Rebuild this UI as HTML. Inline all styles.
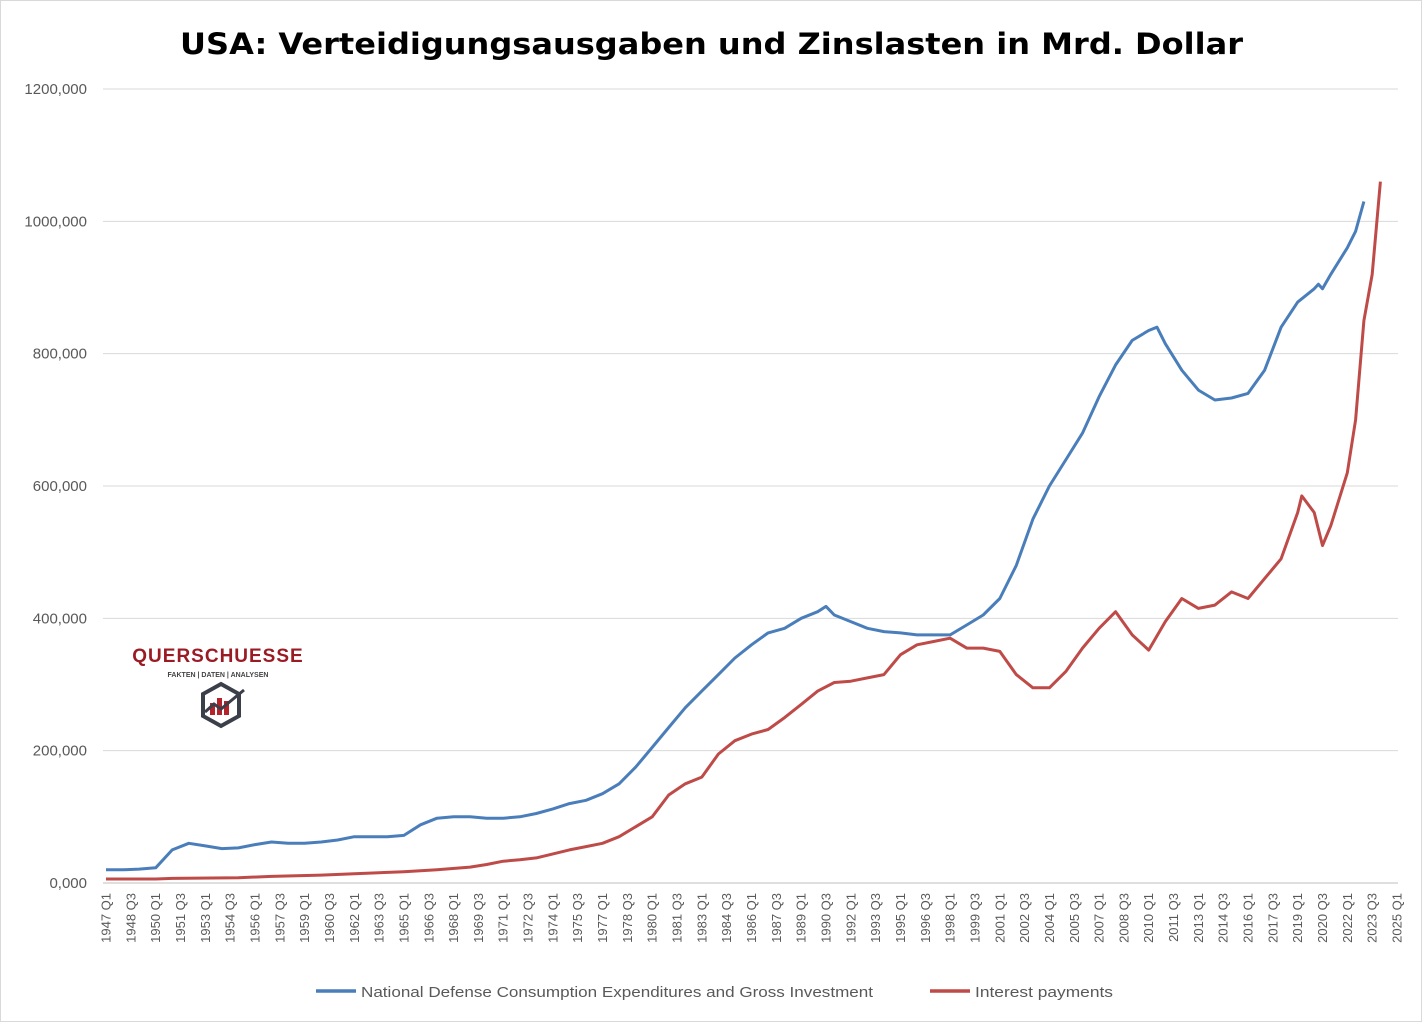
<!DOCTYPE html>
<html><head><meta charset="utf-8">
<style>
html,body{margin:0;padding:0;background:#fff;}
body{width:1422px;height:1022px;overflow:hidden;font-family:"Liberation Sans",sans-serif;}
</style></head>
<body>
<svg id="chart" width="1422" height="1022" xmlns="http://www.w3.org/2000/svg">
<rect x="0.5" y="0.5" width="1421" height="1021" fill="#fff" stroke="#d9d9d9"/>
<text x="180" y="54" textLength="1063" lengthAdjust="spacingAndGlyphs" font-family="'DejaVu Sans',sans-serif" font-size="29" font-weight="bold" fill="#000">USA: Verteidigungsausgaben und Zinslasten in Mrd. Dollar</text>
<g id="grid"></g><g id="ylabels"></g><g id="xlabels"></g><g id="series"></g>
<g>
<text x="218" y="662" text-anchor="middle" font-size="19" font-weight="bold" fill="#9b1b24" letter-spacing="1">QUERSCHUESSE</text>
<text x="218" y="677" text-anchor="middle" font-size="7" font-weight="bold" fill="#444">FAKTEN | DATEN | ANALYSEN</text>
<polygon points="221,684 239,694 239,716 221,726 203,716 203,694" fill="none" stroke="#3b3f4a" stroke-width="4"/>
<rect x="210" y="703" width="5" height="12" fill="#b5222b"/><rect x="217" y="698" width="5" height="17" fill="#b5222b"/><rect x="224" y="701" width="5" height="14" fill="#b5222b"/>
<polyline points="205,712 214,704 221,709 244,690" fill="none" stroke="#3b3f4a" stroke-width="3"/>
</g>
<g>
<line x1="316" y1="991" x2="356" y2="991" stroke="#4a7ebb" stroke-width="3.5"/>
<text x="361" y="997" font-size="15" fill="#595959" textLength="512" lengthAdjust="spacingAndGlyphs">National Defense Consumption Expenditures and Gross Investment</text>
<line x1="930" y1="991" x2="970" y2="991" stroke="#be4b48" stroke-width="3.5"/>
<text x="975" y="997" font-size="15" fill="#595959" textLength="138" lengthAdjust="spacingAndGlyphs">Interest payments</text>
</g>
</svg>
<script>
const yTicks=[0,200000,400000,600000,800000,1000000,1200000];
const yTickLabels=["0,000","200,000","400,000","600,000","800,000","1000,000","1200,000"];
const defenseDates=["1947 Q1","1948 Q1","1949 Q1","1950 Q1","1951 Q1","1952 Q1","1953 Q1","1954 Q1","1955 Q1","1956 Q1","1957 Q1","1958 Q1","1959 Q1","1960 Q1","1961 Q1","1962 Q1","1963 Q1","1964 Q1","1965 Q1","1966 Q1","1967 Q1","1968 Q1","1969 Q1","1970 Q1","1971 Q1","1972 Q1","1973 Q1","1974 Q1","1975 Q1","1976 Q1","1977 Q1","1978 Q1","1979 Q1","1980 Q1","1981 Q1","1982 Q1","1983 Q1","1984 Q1","1985 Q1","1986 Q1","1987 Q1","1988 Q1","1989 Q1","1990 Q1","1990 Q3","1991 Q1","1992 Q1","1993 Q1","1994 Q1","1995 Q1","1996 Q1","1997 Q1","1998 Q1","1999 Q1","2000 Q1","2001 Q1","2002 Q1","2003 Q1","2004 Q1","2005 Q1","2006 Q1","2007 Q1","2008 Q1","2009 Q1","2010 Q1","2010 Q3","2011 Q1","2012 Q1","2013 Q1","2014 Q1","2015 Q1","2016 Q1","2017 Q1","2018 Q1","2019 Q1","2020 Q1","2020 Q2","2020 Q3","2021 Q1","2022 Q1","2022 Q3","2023 Q1"];
const defenseValues=[20000,20000,21000,23000,50000,60000,56000,52000,53000,58000,62000,60000,60000,62000,65000,70000,70000,70000,72000,88000,98000,100000,100000,98000,98000,100000,105000,112000,120000,125000,135000,150000,175000,205000,235000,265000,290000,315000,340000,360000,378000,385000,400000,410000,418000,405000,395000,385000,380000,378000,375000,375000,375000,390000,405000,430000,480000,550000,600000,640000,680000,735000,783000,820000,835000,840000,815000,775000,745000,730000,733000,740000,775000,840000,878000,898000,905000,898000,920000,960000,985000,1030000];
const interestDates=["1947 Q1","1950 Q1","1951 Q1","1955 Q1","1957 Q1","1960 Q1","1962 Q1","1965 Q1","1967 Q1","1969 Q1","1970 Q1","1971 Q1","1972 Q1","1973 Q1","1974 Q1","1975 Q1","1976 Q1","1977 Q1","1978 Q1","1979 Q1","1980 Q1","1981 Q1","1982 Q1","1983 Q1","1984 Q1","1985 Q1","1986 Q1","1987 Q1","1988 Q1","1989 Q1","1990 Q1","1991 Q1","1992 Q1","1993 Q1","1994 Q1","1995 Q1","1996 Q1","1997 Q1","1998 Q1","1999 Q1","2000 Q1","2001 Q1","2002 Q1","2003 Q1","2004 Q1","2005 Q1","2006 Q1","2007 Q1","2008 Q1","2009 Q1","2010 Q1","2011 Q1","2012 Q1","2013 Q1","2014 Q1","2015 Q1","2016 Q1","2017 Q1","2018 Q1","2019 Q1","2019 Q2","2020 Q1","2020 Q3","2021 Q1","2022 Q1","2022 Q3","2023 Q1","2023 Q3","2024 Q1"];
const interestValues=[6000,6000,7000,8000,10000,12000,14000,17000,20000,24000,28000,33000,35000,38000,44000,50000,55000,60000,70000,85000,100000,133000,150000,160000,195000,215000,225000,232000,250000,270000,290000,303000,305000,310000,315000,345000,360000,365000,370000,355000,355000,350000,315000,295000,295000,320000,355000,385000,410000,375000,352000,395000,430000,415000,420000,440000,430000,460000,490000,560000,585000,560000,510000,540000,620000,700000,850000,920000,1060000];
const NS="http://www.w3.org/2000/svg";
const L=103,R=1398,Y0=883,Y1=89;
function qIndex(s){const p=s.split(" Q");return (parseInt(p[0])-1947)*4+parseInt(p[1])-1;}
function xPos(i){return 106+i*(1397-106)/312;}
function yPos(v){return Y0-v/1200000*(Y0-Y1);}
function mk(tag,attrs,parent){const e=document.createElementNS(NS,tag);for(const k in attrs)e.setAttribute(k,attrs[k]);parent.appendChild(e);return e;}
const grid=document.getElementById('grid'),yl=document.getElementById('ylabels'),xl=document.getElementById('xlabels'),sg=document.getElementById('series');
yTicks.forEach((t,i)=>{
 const ln=mk('line',{x1:L,x2:R,y1:yPos(t),y2:yPos(t),stroke:i===0?'#bfbfbf':'#d9d9d9','stroke-width':1},grid);
 
 
 const tx=mk('text',{x:87,y:yPos(t)+5,'text-anchor':'end','font-size':15,fill:'#595959'},yl);
 tx.textContent=yTickLabels[i];
 
 
});
for(let i=0;i<=312;i+=6){
 const yr=1947+Math.floor(i/4),q=i%4+1;
 const x=xPos(i);
 const tx=mk('text',{x:0,y:0,'text-anchor':'end','font-size':13,fill:'#595959',transform:`translate(${x+4.5},893) rotate(-90)`},xl);
 tx.textContent=yr+" Q"+q;
 
 
}
function line(dates,vals,color,name){
 const pts=dates.map((d,i)=>xPos(qIndex(d)).toFixed(1)+","+yPos(vals[i]).toFixed(1)).join(" ");
 const p=mk('polyline',{points:pts,fill:'none',stroke:color,'stroke-width':3,'stroke-linejoin':'round'},sg);
 
 
}
line(defenseDates,defenseValues,'#4a7ebb','defense-line');
line(interestDates,interestValues,'#be4b48','interest-line');
</script>
</body></html>
